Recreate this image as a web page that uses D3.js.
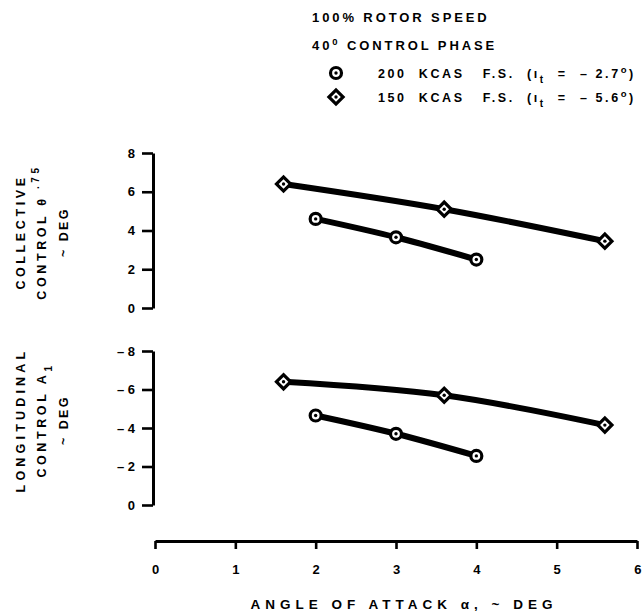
<!DOCTYPE html>
<html>
<head>
<meta charset="utf-8">
<script src="https://cdn.jsdelivr.net/npm/d3@7"></script>
<style>
  html, body { margin: 0; padding: 0; background: #fff; }
  svg { display: block; font-family: "Liberation Sans", Arial, sans-serif; font-weight: bold; }
  .tick text { font-size: 13px; font-weight: bold; }
</style>
</head>
<body>
<svg id="chart" width="642" height="616"></svg>
<script>
// Angle of attack (deg) for each flight-speed series
const alpha200 = [2.0, 3.0, 4.0];
const alpha150 = [1.6, 3.6, 5.6];
// Collective control theta .75 (deg)
const collective200 = [4.6, 3.65, 2.5];
const collective150 = [6.4, 5.1, 3.45];
// Longitudinal control A1 (deg)
const longitudinal200 = [-4.65, -3.7, -2.55];
const longitudinal150 = [-6.4, -5.7, -4.15];

const xTicks = [0, 1, 2, 3, 4, 5, 6];
const collectiveTicks = [0, 2, 4, 6, 8];
const longitudinalTicks = [0, -2, -4, -6, -8];

const svg = d3.select("#chart");

const x = d3.scaleLinear().domain([0, 6]).range([155, 637]);
const yTop = d3.scaleLinear().domain([0, 8]).range([308, 153]);
const yBot = d3.scaleLinear().domain([0, -8]).range([505, 351]);

// Vertical axes
function yAxis(scale, ticks, fmt) {
  const g = svg.append("g").attr("transform", "translate(153,0)")
    .call(d3.axisLeft(scale).tickValues(ticks).tickSize(11).tickSizeOuter(0).tickPadding(7).tickFormat(fmt));
  g.select(".domain").attr("stroke-width", 3).attr("stroke", "#000");
  g.selectAll(".tick line").attr("stroke-width", 2.6).attr("stroke", "#000");
  g.selectAll(".tick text").attr("fill", "#000");
  return g;
}
yAxis(yTop, collectiveTicks, d => d3.format("d")(d));
yAxis(yBot, longitudinalTicks, d => d === 0 ? "0" : "\u2013 " + Math.abs(d));

// Horizontal axis
const gx = svg.append("g").attr("transform", "translate(0,541)")
  .call(d3.axisBottom(x).tickValues(xTicks).tickSize(8).tickSizeOuter(0).tickPadding(16).tickFormat(d3.format("d")));
gx.select(".domain").attr("stroke-width", 3).attr("stroke", "#000");
gx.selectAll(".tick line").attr("stroke-width", 2.6).attr("stroke", "#000");
gx.selectAll(".tick text").attr("fill", "#000");
gx.selectAll(".tick").filter(d => d === 6).select("text").attr("text-anchor", "end").attr("dx", 4);

// Curves through each series
function series(xs, ys, yScale, marker) {
  const pts = xs.map((v, i) => [v, ys[i]]);
  const line = d3.line().x(d => x(d[0])).y(d => yScale(d[1])).curve(d3.curveMonotoneX);
  svg.append("path").datum(pts).attr("d", line)
    .attr("fill", "none").attr("stroke", "#000").attr("stroke-width", 6)
    .attr("stroke-linecap", "round");
  pts.forEach(p => drawMarker(marker, x(p[0]), yScale(p[1])));
}

function drawMarker(kind, cx, cy) {
  const g = svg.append("g").attr("transform", `translate(${cx},${cy})`);
  if (kind === "circle") {
    g.append("circle").attr("r", 5.5).attr("fill", "#fff").attr("stroke", "#000").attr("stroke-width", 3.2);
  } else {
    g.append("rect").attr("x", -5).attr("y", -5).attr("width", 10).attr("height", 10)
      .attr("transform", "rotate(45)")
      .attr("fill", "#fff").attr("stroke", "#000").attr("stroke-width", 3.2);
  }
  g.append("circle").attr("r", 1.7).attr("fill", "#000");
}

series(alpha150, collective150, yTop, "diamond");
series(alpha200, collective200, yTop, "circle");
series(alpha150, longitudinal150, yBot, "diamond");
series(alpha200, longitudinal200, yBot, "circle");

// Heading and legend
svg.append("text").attr("x", 312).attr("y", 22).attr("font-size", 13)
  .attr("letter-spacing", 2.9).text("100% ROTOR SPEED");
const phase = svg.append("text").attr("x", 312).attr("y", 50).attr("font-size", 13).attr("letter-spacing", 2.9);
phase.append("tspan").text("40");
phase.append("tspan").attr("dy", -5).attr("font-size", 9.5).text("0");
phase.append("tspan").attr("dy", 5).text(" CONTROL PHASE");

drawMarker("circle", 336, 73);
drawMarker("diamond", 336, 97);

function legendText(yp, speed, val) {
  const t = svg.append("text").attr("x", 378).attr("y", yp).attr("font-size", 12.5).attr("letter-spacing", 2.6)
    .attr("xml:space", "preserve");
  t.append("tspan").text(speed + "  KCAS   F.S.  (\u0131");
  t.append("tspan").attr("dy", 5).attr("font-size", 10).text("t");
  t.append("tspan").attr("dy", -5).text("  =  \u2013 " + val);
  t.append("tspan").attr("dy", -5).attr("font-size", 9.5).text("o");
  t.append("tspan").attr("dy", 5).text(")");
}
legendText(78, "200", "2.7");
legendText(102, "150", "5.6");

// Rotated axis titles
function vtitle(lines, cy) {
  lines.forEach(l => {
    const t = svg.append("text")
      .attr("transform", `translate(${l.x},${cy}) rotate(-90)`)
      .attr("text-anchor", "middle").attr("font-size", 12.5).attr("letter-spacing", l.ls || 3.6);
    l.parts.forEach(p => {
      const s = t.append("tspan").text(p.t);
      if (p.dy) s.attr("dy", p.dy);
      if (p.size) s.attr("font-size", p.size);
    });
  });
}
vtitle([
  { x: 25, parts: [{ t: "COLLECTIVE" }] },
  { x: 46, parts: [{ t: "CONTROL \u03B8" }, { t: " .75", dy: -7, size: 10 }] },
  { x: 68, parts: [{ t: "~ DEG" }], ls: 2.4 }
], 232);
vtitle([
  { x: 25, parts: [{ t: "LONGITUDINAL" }], ls: 4.2 },
  { x: 46, parts: [{ t: "CONTROL A" }, { t: "1", dy: 6, size: 10 }] },
  { x: 68, parts: [{ t: "~ DEG" }], ls: 2.4 }
], 420);

// Horizontal axis title
svg.append("text").attr("x", 404).attr("y", 609).attr("text-anchor", "middle")
  .attr("font-size", 13.5).attr("letter-spacing", 5).text("ANGLE OF ATTACK \u03B1, ~ DEG");
</script>
</body>
</html>
